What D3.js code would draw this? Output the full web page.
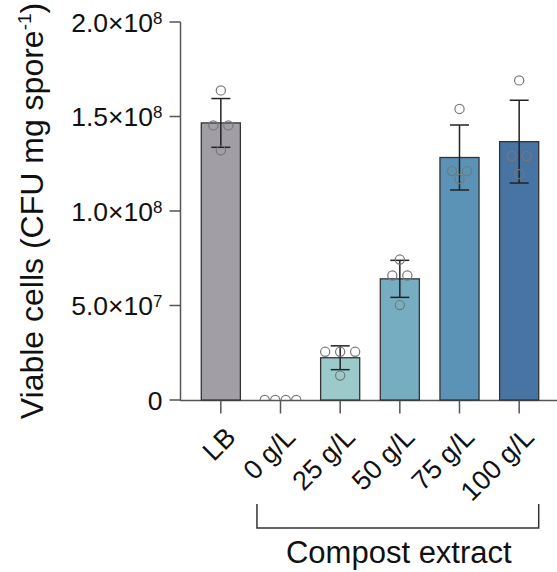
<!DOCTYPE html>
<html>
<head>
<meta charset="utf-8">
<script src="https://cdn.jsdelivr.net/npm/d3@7"></script>
<style>
    html, body { margin: 0; padding: 0; background: #fff; }
    svg { display: block; font-family: "Liberation Sans", Arial, sans-serif; }
</style>
</head>
<body>
<div id="body"></div>
<script>
// categories along x
const categories = ['LB', '0 g/L', '25 g/L', '50 g/L', '75 g/L', '100 g/L'];
// bar height (mean) and error (SD), CFU per mg spore
const means = [1.466e8, 0, 0.2235e8, 0.641e8, 1.283e8, 1.367e8];
const errors = [0.129e8, 0, 0.063e8, 0.098e8, 0.172e8, 0.219e8];
// individual replicates
const replicates = [
    [1.638e8, 1.453e8, 1.453e8, 1.321e8],
    [0, 0, 0, 0],
    [0.255e8, 0.255e8, 0.255e8, 0.129e8],
    [0.743e8, 0.659e8, 0.659e8, 0.502e8],
    [1.540e8, 1.211e8, 1.211e8, 1.169e8],
    [1.691e8, 1.291e8, 1.291e8, 1.195e8]
];
const colors = ['#a19fa5', '#000000', '#9ccaca', '#77adc1', '#5a93b6', '#4874a4'];
const yTicks = [0, 5e7, 1e8, 1.5e8, 2e8];
const yTickLabels = ['0', '5.0×10|7', '1.0×10|8', '1.5×10|8', '2.0×10|8'];
const groupLabel = 'Compost extract';

function chart() {
    chart.setup();
    chart.axes();
    chart.bars();
    chart.points();
    chart.bracket();
}

chart.setup = function () {
    chart.width = 557;
    chart.height = 572;
    chart.svg = d3.select('#body').append('svg')
        .attr('width', chart.width)
        .attr('height', chart.height);
    chart.x = d3.scaleBand()
        .domain(categories)
        .range([191, 549])
        .paddingInner(0.345)
        .paddingOuter(0.1725);
    chart.y = d3.scaleLinear()
        .domain([0, 2e8])
        .range([400, 22]);
};

chart.axes = function () {
    let svg = chart.svg, x = chart.x, y = chart.y;
    let axisColor = '#555';

    // y axis
    let yAxis = svg.append('g').attr('transform', 'translate(180.5,0)');
    yAxis.append('line')
        .attr('y1', y(2e8)).attr('y2', y(0) + 0.5)
        .attr('stroke', axisColor).attr('stroke-width', 1.5);
    let yt = yAxis.selectAll('g.tick').data(yTicks).enter().append('g')
        .attr('transform', d => `translate(0,${y(d)})`);
    yt.append('line').attr('x1', -11).attr('x2', 0)
        .attr('stroke', axisColor).attr('stroke-width', 1.5);
    let txt = yt.append('text')
        .attr('x', -18).attr('dy', '0.36em')
        .attr('text-anchor', 'end')
        .attr('font-size', 26.5)
        .attr('fill', '#111');
    txt.each(function (d, i) {
        let parts = yTickLabels[i].split('|');
        let t = d3.select(this);
        t.append('tspan').text(parts[0]);
        if (parts[1]) {
            t.append('tspan').attr('font-size', 17).attr('dy', -8).text(parts[1]);
        }
    });

    // y label
    let yl = svg.append('text')
        .attr('transform', 'translate(43,211) rotate(-90)')
        .attr('text-anchor', 'middle')
        .attr('font-size', 32)
        .attr('fill', '#111');
    yl.append('tspan').text('Viable cells (CFU mg spore');
    yl.append('tspan').attr('font-size', 19).attr('dy', -12).text('-1');
    yl.append('tspan').attr('dy', 12).text(')');

    // x axis
    let xAxis = svg.append('g').attr('transform', `translate(0,${y(0) + 0.5})`);
    xAxis.append('line')
        .attr('x1', 180).attr('x2', chart.width)
        .attr('stroke', axisColor).attr('stroke-width', 1.5);
    let xt = xAxis.selectAll('g.tick').data(categories).enter().append('g')
        .attr('transform', d => `translate(${x(d) + x.bandwidth() / 2},0)`);
    xt.append('line').attr('y1', 0).attr('y2', 13)
        .attr('stroke', axisColor).attr('stroke-width', 1.5);
    xt.append('text')
        .attr('transform', 'translate(3,25) rotate(-45)')
        .attr('text-anchor', 'end')
        .attr('dy', '0.7em')
        .attr('font-size', 27)
        .attr('fill', '#111')
        .text(d => d);
};

chart.bars = function () {
    let svg = chart.svg, x = chart.x, y = chart.y;
    let bw = x.bandwidth();
    let g = svg.append('g');
    categories.forEach(function (c, i) {
        if (means[i] > 0) {
            g.append('rect')
                .attr('x', x(c)).attr('width', bw)
                .attr('y', y(means[i])).attr('height', y(0) - y(means[i]))
                .attr('fill', colors[i])
                .attr('stroke', '#333').attr('stroke-width', 1.3);
        }
    });
    // error bars
    categories.forEach(function (c, i) {
        if (errors[i] <= 0) return;
        let cx = x(c) + bw / 2;
        let top = y(means[i] + errors[i]), bot = y(means[i] - errors[i]);
        g.append('line').attr('x1', cx).attr('x2', cx).attr('y1', top).attr('y2', bot)
            .attr('stroke', '#222').attr('stroke-width', 1.5);
        [top, bot].forEach(function (yy) {
            g.append('line').attr('x1', cx - 9.5).attr('x2', cx + 9.5).attr('y1', yy).attr('y2', yy)
                .attr('stroke', '#222').attr('stroke-width', 1.5);
        });
    });
};

chart.points = function () {
    let svg = chart.svg, x = chart.x, y = chart.y;
    let bw = x.bandwidth();
    svg.append('clipPath').attr('id', 'plotclip')
        .append('rect').attr('x', 180).attr('y', 0).attr('width', chart.width).attr('height', y(0));
    let g = svg.append('g').attr('clip-path', 'url(#plotclip)');
    categories.forEach(function (c, i) {
        let cx = x(c) + bw / 2;
        // spread replicates that share a value side by side
        let groups = d3.group(replicates[i], v => v);
        groups.forEach(function (vals, v) {
            let n = vals.length;
            let step = n > 1 ? Math.min(15, 31.5 / (n - 1)) : 0;
            vals.forEach(function (_, k) {
                g.append('circle')
                    .attr('cx', cx + (k - (n - 1) / 2) * step)
                    .attr('cy', y(v))
                    .attr('r', 4.6)
                    .attr('fill', 'none')
                    .attr('stroke', '#777')
                    .attr('stroke-width', 1.2);
            });
        });
    });
};

chart.bracket = function () {
    let svg = chart.svg, x = chart.x;
    let x0 = x(categories[1]) - 4;
    let x1 = x(categories[categories.length - 1]) + x.bandwidth();
    svg.append('path')
        .attr('d', `M${x0},504V528H${x1}V504`)
        .attr('fill', 'none')
        .attr('stroke', '#333')
        .attr('stroke-width', 1.5);
    svg.append('text')
        .attr('x', (x0 + x1) / 2 + 1)
        .attr('y', 563)
        .attr('text-anchor', 'middle')
        .attr('font-size', 31)
        .attr('fill', '#111')
        .text(groupLabel);
};

chart();
</script>
</body>
</html>
